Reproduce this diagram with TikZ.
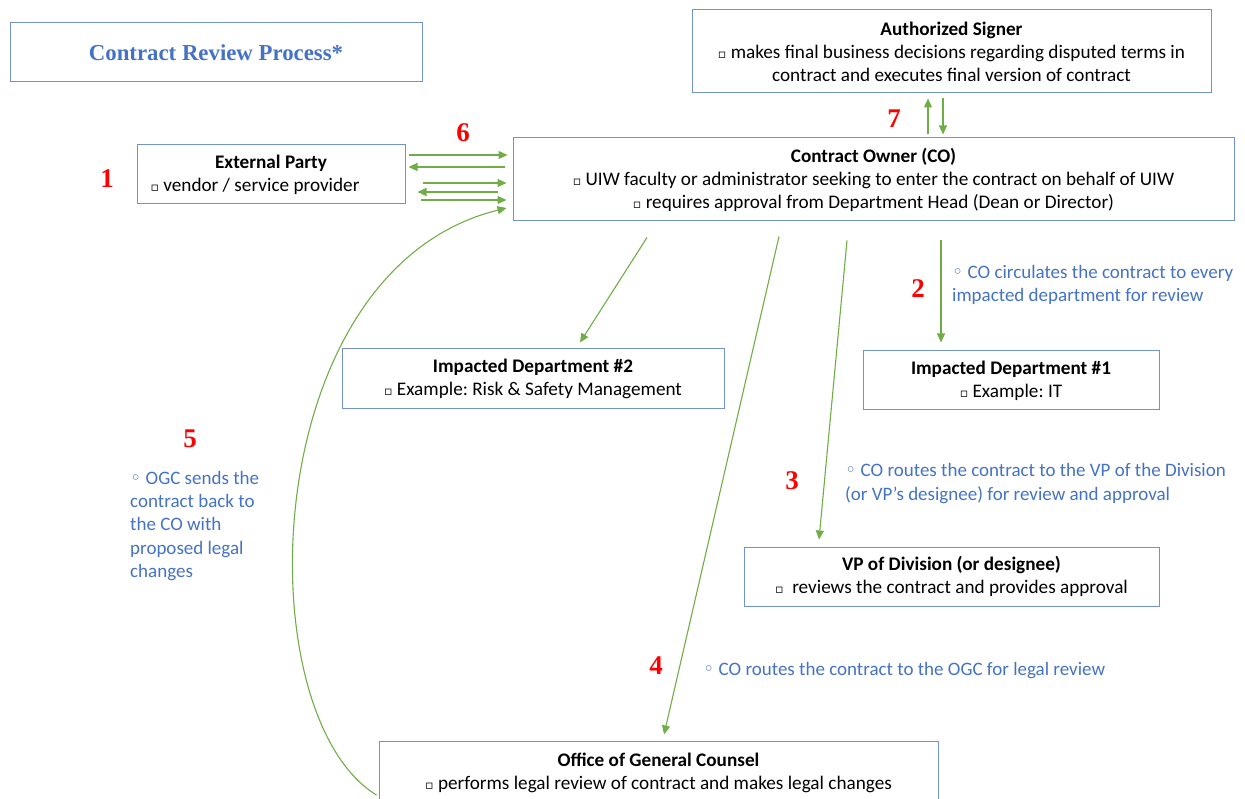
\documentclass[tikz,border=0pt]{standalone}
\usepackage{fontspec}
\setmainfont{Carlito}
\newfontfamily\timesfont{Liberation Serif}
\newfontfamily\symfont{DejaVu Sans}
\usetikzlibrary{arrows.meta}

\definecolor{edgeblue}{RGB}{114,146,206}
\definecolor{noteblue}{RGB}{68,114,196}
\definecolor{flowgreen}{RGB}{112,173,71}

\newcommand{\sqbullet}{{\symfont\fontsize{12.5}{12.5}\selectfont ▫}~}
\newcommand{\ringbullet}{{\symfont\fontsize{19}{19}\selectfont ◦}~}

\frenchspacing

\begin{document}
\begin{tikzpicture}[x=1pt,y=-1pt,
	box/.style={draw=edgeblue, line width=1pt, inner sep=0pt, align=center, font=\fontsize{19.2}{23}\selectfont},
	note/.style={anchor=west, align=left, text=noteblue, inner sep=0pt, font=\fontsize{19}{23.2}\selectfont},
	num/.style={text=red, font=\timesfont\bfseries\fontsize{27}{27}\selectfont},
	flow/.style={flowgreen, line width=1.1pt, -{Triangle[length=9pt,width=8pt]}}]
		
		\useasboundingbox (0,0) rectangle (1245,799);
		
		% boxes
		\node[box, minimum width=412pt, minimum height=59pt, text=noteblue, font=\timesfont\bfseries\fontsize{22.8}{22.8}\selectfont] (title) at (216,52.5) {Contract Review Process*};
		\node[box, minimum width=519pt, minimum height=83pt] (signer) at (951.5,51.5) {\textbf{Authorized Signer}\\\sqbullet makes final business decisions regarding disputed terms in\\contract and executes final version of contract};
		\node[box, minimum width=721pt, minimum height=83pt] (co) at (873.5,179.5) {\textbf{Contract Owner (CO)}\\\sqbullet UIW faculty or administrator seeking to enter the contract on behalf of UIW\\\sqbullet requires approval from Department Head (Dean or Director)};
		\node[box, minimum width=268pt, minimum height=59pt] (ext) at (271,174.5) {\textbf{External Party}\\\sqbullet vendor / service provider\hspace*{32pt}};
		\node[box, minimum width=382pt, minimum height=60pt] (imptwo) at (533,379) {\textbf{Impacted Department \#2}\\\sqbullet Example: Risk \& Safety Management};
		\node[box, minimum width=296pt, minimum height=59pt] (impone) at (1011,380.5) {\textbf{Impacted Department \#1}\\\sqbullet Example: IT};
		\node[box, minimum width=415pt, minimum height=59pt] (vp) at (951.5,576.5) {\textbf{VP of Division (or designee)}\\\sqbullet\ reviews the contract and provides approval};
		\node[box, minimum width=559pt, minimum height=63pt] (ogc) at (658.5,772.5) {\textbf{Office of General Counsel}\\\sqbullet performs legal review of contract and makes legal changes};
		
		% step numbers
		\node[num] (one) at (107,179) {1};
		\node[num] (two) at (918,289) {2};
		\node[num] (three) at (792,481) {3};
		\node[num] (four) at (656,666) {4};
		\node[num] (five) at (190,439) {5};
		\node[num] (six) at (463,133) {6};
		\node[num] (seven) at (894,119) {7};
		
		% notes
		\node[note] (notetwo) at (952,285) {\ringbullet CO circulates the contract to every\\impacted department for review};
		\node[note] (notethree) at (845,483.5) {\ringbullet CO routes the contract to the VP of the Division\\(or VP’s designee) for review and approval};
		\node[note] (notefour) at (703,670.5) {\ringbullet CO routes the contract to the OGC for legal review};
		\node[note] (notefive) at (130,526) {\ringbullet OGC sends the\\contract back to\\the CO with\\proposed legal\\changes};
		
		% external party <-> contract owner
		\draw[flow] ([shift={(3,-19.5)}]ext.east) -- ([shift={(-5,-24.5)}]co.west);
		\draw[flow] ([shift={(-8,-12.5)}]co.west) -- ([shift={(3,-7.5)}]ext.east);
		\draw[flow] ([shift={(17,8.5)}]ext.east) -- ([shift={(-6,3.5)}]co.west);
		\draw[flow] ([shift={(-15,12.5)}]co.west) -- ([shift={(12,17.5)}]ext.east);
		\draw[flow] ([shift={(15,25.5)}]ext.east) -- ([shift={(-6,20.5)}]co.west);
		
		% contract owner <-> authorized signer
		\draw[flow] ([shift={(54.5,-3)}]co.north) -- ([shift={(-23.5,5)}]signer.south);
		\draw[flow] ([shift={(-8.5,5)}]signer.south) -- ([shift={(69.5,-3)}]co.north);
		
		% contract owner -> reviewers
		\draw[flow] ([shift={(-226.5,16)}]co.south) -- ([shift={(47,-6)}]imptwo.north);
		\draw[flow] ([shift={(67.5,19)}]co.south) -- ([shift={(-70,-8)}]impone.north);
		\draw[flow] ([shift={(-26.5,19)}]co.south) -- ([shift={(-132.5,-7)}]vp.north);
		\draw[flow] ([shift={(-94.5,15)}]co.south) -- ([shift={(5.5,-6)}]ogc.north);
		
		% ogc back to contract owner
		\draw[flow] ([shift={(-2,22.5)}]ogc.west) .. controls (245,715) and (255,270) .. ([shift={(-6,28.5)}]co.west);
		
	\end{tikzpicture}
\end{document}
